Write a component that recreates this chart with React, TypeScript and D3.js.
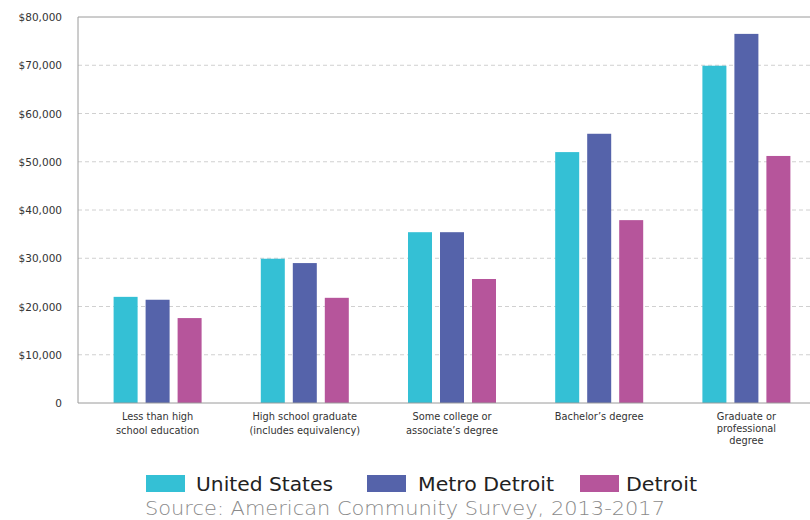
import React from "react";
import * as d3 from "d3";

const categories = [
  ["Less than high", "school education"],
  ["High school graduate", "(includes equivalency)"],
  ["Some college or", "associate\u2019s degree"],
  ["Bachelor\u2019s degree"],
  ["Graduate or", "professional", "degree"],
];
const seriesNames = ["United States", "Metro Detroit", "Detroit"];
const seriesColors = ["#34c0d5", "#5563aa", "#b6559b"];
const usValues = [22000, 29900, 35400, 52000, 69900];
const metroValues = [21400, 29000, 35400, 55800, 76500];
const detroitValues = [17600, 21800, 25700, 37900, 51200];
const yTicks = [0, 10000, 20000, 30000, 40000, 50000, 60000, 70000, 80000];
const sourceText = "Source: American Community Survey, 2013-2017";

const W = 810;
const H = 520;
const plotLeft = 78;
const plotRight = 810;
const plotTop = 17;
const plotBottom = 403;

export default function App() {
  const catKeys = categories.map((c) => c.join(" "));
  const x0 = d3.scaleBand<string>().domain(catKeys).range([84, 820]).padding(0);
  const bw = x0.bandwidth();
  const x1 = d3
    .scaleBand<string>()
    .domain(seriesNames)
    .range([bw / 2 - 44, bw / 2 + 44])
    .paddingInner(0.25)
    .paddingOuter(0);
  const y = d3.scaleLinear().domain([0, 80000]).range([plotBottom, plotTop]);
  const allSeries = [usValues, metroValues, detroitValues];
  const fmt = (v: number) => (v === 0 ? "0" : "$" + d3.format(",")(v));
  const font = "'DejaVu Sans', 'Open Sans', sans-serif";

  const legendItems = [
    { name: seriesNames[0], color: seriesColors[0], sx: 146, tx: 196, len: 137 },
    { name: seriesNames[1], color: seriesColors[1], sx: 367, tx: 418, len: 136 },
    { name: seriesNames[2], color: seriesColors[2], sx: 580, tx: 626, len: 71 },
  ];

  return (
    <svg
      width={W}
      height={H}
      style={{ position: "absolute", left: 0, top: 0, background: "#fff" }}
      fontFamily={font}
    >
      {yTicks.map((t) => (
        <g key={t}>
          {t !== 0 && t !== 80000 && (
            <line
              x1={plotLeft}
              x2={plotRight}
              y1={y(t)}
              y2={y(t)}
              stroke="#d0d0d0"
              strokeDasharray="4,3"
              strokeWidth={1}
            />
          )}
          <text
            x={62}
            y={y(t)}
            dy="0.4em"
            textAnchor="end"
            fontSize={10.5}
            fill="#333"
          >
            {fmt(t)}
          </text>
        </g>
      ))}
      <line x1={plotLeft} x2={plotRight} y1={plotTop} y2={plotTop} stroke="#9a9a9a" />
      <line x1={plotLeft} x2={plotLeft} y1={plotTop} y2={plotBottom} stroke="#9a9a9a" />
      {catKeys.map((k, i) => (
        <g key={k} transform={`translate(${x0(k)},0)`}>
          {allSeries.map((vals, s) => (
            <rect
              key={s}
              x={x1(seriesNames[s])}
              y={y(vals[i])}
              width={x1.bandwidth()}
              height={plotBottom - y(vals[i])}
              fill={seriesColors[s]}
            />
          ))}
          {categories[i].map((line, li) => {
            const lh = categories[i].length > 2 ? 12 : 14;
            return (
              <text
                key={li}
                x={bw / 2}
                y={420 + li * lh}
                textAnchor="middle"
                fontSize={9.8}
                fill="#333"
              >
                {line}
              </text>
            );
          })}
        </g>
      ))}
      <line x1={plotLeft} x2={plotRight} y1={plotBottom} y2={plotBottom} stroke="#9a9a9a" />
      {legendItems.map((it) => (
        <g key={it.name}>
          <rect x={it.sx} y={475} width={39} height={17} fill={it.color} />
          <text x={it.tx} y={491} fontSize={19} fill="#222" textLength={it.len} lengthAdjust="spacingAndGlyphs">
            {it.name}
          </text>
        </g>
      ))}
      <text x={145} y={515} fontSize={19.5} fill="#8a8a8a" fontWeight={200} textLength={520} lengthAdjust="spacingAndGlyphs">
        {sourceText}
      </text>
    </svg>
  );
}
